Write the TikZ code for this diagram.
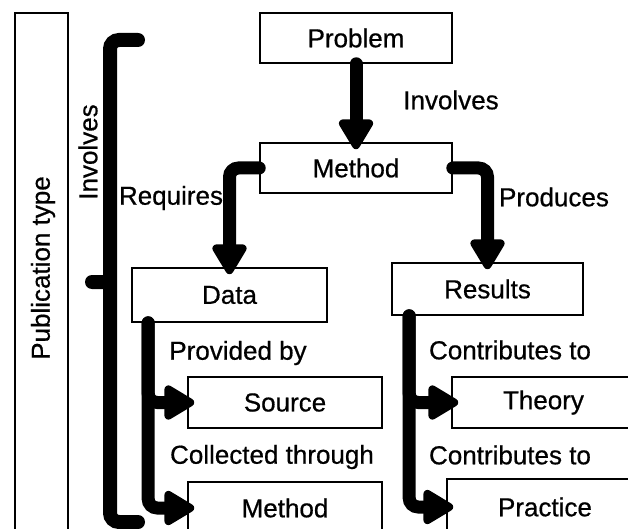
\documentclass[tikz,border=0pt]{standalone}
\usepackage{fontspec}
\setmainfont{Liberation Sans}[FakeBold=0.6]
\usetikzlibrary{arrows.meta}

\begin{document}
\begin{tikzpicture}[x=1pt,y=-1pt]
		\tikzstyle{every node}=[font=\fontsize{26}{30}\selectfont,inner sep=0pt];
		\tikzstyle{box}=[draw,line width=1.6pt,fill=white];
		\tikzstyle{arr}=[line width=13pt,line cap=round,rounded corners=9pt,shorten >=-7pt,-{Triangle[width=38pt,length=34pt,round,line width=8pt]}];
		\path[use as bounding box,clip] (0,0) rectangle (628,529);
		% outer box and brace
		\draw[line width=1.6pt] (15,13) rectangle (68,560);
		\node[rotate=90] (pub) at (43,268) {Publication type};
		\draw[line width=14pt,line cap=round,rounded corners=9pt]
		(138,40) -- (110,40) -- (110,522) -- (138,522)
		(110,282) -- (92,282);
		\node[rotate=90] (inv0) at (88,152) {Involves};
		% boxes
		\node[box,minimum width=192pt,minimum height=50pt] (problem) at (356,38) {Problem};
		\node[box,minimum width=192pt,minimum height=50pt] (method) at (356,168) {Method};
		\node[box,minimum width=195pt,minimum height=54pt] (data) at (229.5,295) {Data};
		\node[box,minimum width=191pt,minimum height=52pt] (results) at (487.5,289) {Results};
		\node[box,minimum width=194pt,minimum height=51pt] (source) at (285,402.5) {Source};
		\node[box,minimum width=194pt,minimum height=52pt] (method2) at (285,508) {Method};
		\node[box,minimum width=188pt,minimum height=51pt,text width=182pt,align=left] (theory) at (546,402.5) {\hspace*{48pt}Theory};
		\node[box,minimum width=193pt,minimum height=56pt,text width=187pt,align=left] (practice) at (543.5,507) {\hspace*{48pt}Practice};
		% labels
		\node (inv1) at (451,100) {Involves};
		\node (req) at (171,198) {Requires};
		\node (prod) at (554,197) {Produces};
		\node (prov) at (238,353) {Provided by};
		\node (coll) at (272,457) {Collected through};
		\node (con1) at (510,350) {Contributes to};
		\node (con2) at (510,455) {Contributes to};
		% connectors
		\draw[arr] (problem.south) -- (method.north);
		\draw[arr] (method.west) -| (data.north);
		\draw[arr] (method.east) -| (results.north);
		\draw[arr] ([xshift=17pt]data.south west) |- (source.west);
		\draw[arr] ([xshift=17pt]data.south west) |- (method2.west);
		\draw[arr] ([xshift=18pt]results.south west) |- (theory.west);
		\draw[arr] ([xshift=18pt]results.south west) |- (practice.west);
	\end{tikzpicture}
\end{document}
